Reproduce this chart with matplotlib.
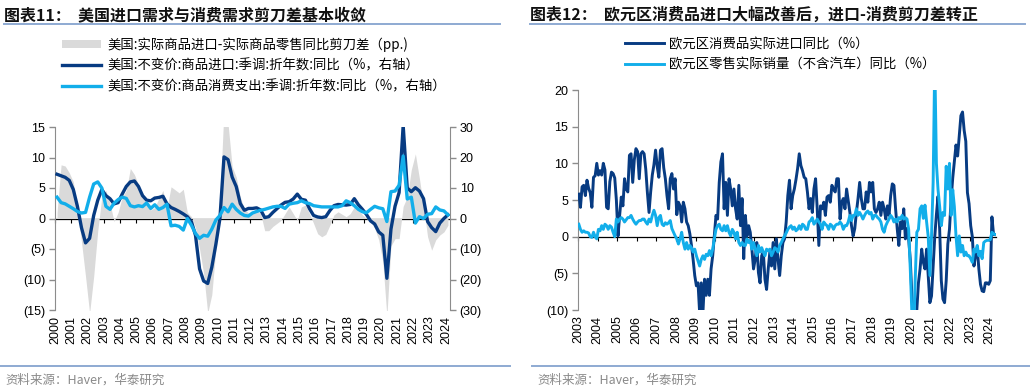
import numpy as np
import matplotlib
matplotlib.use('Agg')
import matplotlib.pyplot as plt
from matplotlib.lines import Line2D
from matplotlib.ticker import FuncFormatter

CJK = ['Noto Sans CJK SC', 'DejaVu Sans']
plt.rcParams['font.family'] = ['Liberation Sans', 'Noto Sans CJK SC', 'DejaVu Sans']
plt.rcParams['axes.unicode_minus'] = False

# ---------------- data: chart 11 (US, quarterly 2000Q1-2024Q1) ----------------
us_quarters = [f"{y}Q{q}" for y in range(2000, 2025) for q in range(1, 5)][:97]
us_gap = [1.0, 8.8, 8.6, 7.5, 6.0, 1.5, -3.8, -9.5, -15.5, -9.5, -2.0, 3.5,
          4.6, 2.5, -0.5, 1.0, 3.5, 4.6, 8.2, 7.2, 5.5, 3.5, 2.2, 1.4,
          1.8, 3.3, 4.6, 1.7, 5.2, 4.7, 4.2, 4.8, 1.0, 0.3, -1.5, -5.0,
          -9.0, -15.5, -12.5, -5.0, 3.0, 18.0, 15.5, 8.5, 6.8, 3.5, 1.6, 0.9,
          1.2, 1.2, 0.8, -2.0, -2.0, -1.3, -0.8, -0.3, 0.8, 1.9, 0.8, -0.3,
          1.9, 2.2, 0.8, -0.8, -2.5, -3.0, -2.6, -1.1, 0.6, 1.1, 0.7, 0.3,
          0.8, 1.9, 1.4, 0.6, 0.0, -0.5, -1.6, -3.5, -7.0, -16.0, -4.5, -3.3,
          -3.3, 2.0, 3.5, 8.0, 10.6, 6.5, 2.0, -3.0, -5.2, -3.5, -2.7, -2.2,
          -1.1]
us_imports = [14.5, 14.0, 13.5, 12.5, 9.5, 4.0, -3.0, -8.0, -6.5, 1.0, 6.0, 9.5,
              7.5, 6.5, 4.8, 5.2, 8.0, 10.5, 12.0, 12.3, 10.5, 7.5, 6.0, 5.8,
              6.7, 6.9, 7.3, 4.8, 3.6, 3.0, 2.3, 1.5, 0.6, -1.0, -5.5, -16.5,
              -20.5, -21.3, -16.0, -8.5, 0.0, 20.2, 19.3, 13.6, 10.5, 4.9, 2.7, 3.3,
              3.3, 3.5, 2.8, 0.3, 0.6, 2.0, 3.2, 4.4, 5.3, 5.5, 6.4, 8.0,
              6.3, 6.0, 3.2, 1.0, 0.5, 0.3, 0.6, 2.6, 4.2, 4.6, 4.5, 4.4,
              4.6, 6.5, 4.5, 3.0, 1.3, -0.8, -1.8, -4.4, -5.5, -19.6, -3.5, 4.0,
              8.5, 30.5, 10.0, 8.8, 10.1, 9.0, 6.5, -1.0, -3.0, -4.3, -1.5, 0.0,
              1.2]
us_goods_pce = [7.0, 5.2, 4.8, 4.0, 3.2, 2.3, 1.8, 2.0, 7.0, 11.3, 12.0, 10.0,
                4.0, 3.0, 5.0, 6.2, 7.0, 6.6, 4.2, 3.8, 4.2, 3.9, 5.1, 3.3,
                4.5, 3.0, 3.6, 4.7, -2.4, -2.2, -2.6, -3.8, 0.0, -2.2, -4.9, -6.5,
                -5.5, -5.8, -3.5, -0.5, 1.0, 3.6, 2.2, 4.7, 3.0, 1.8, 1.0, 0.8,
                1.8, 2.3, 2.7, 3.0, 3.4, 3.8, 4.0, 4.0, 3.3, 4.7, 5.0, 5.2,
                5.8, 5.2, 4.9, 4.2, 4.0, 3.8, 3.8, 3.8, 3.8, 3.8, 4.2, 5.8,
                5.2, 4.2, 3.0, 2.2, 1.9, 3.0, 4.0, 3.5, 3.2, -1.0, 8.8, 9.0,
                10.9, 20.5, 6.4, 7.0, -1.5, 0.6, 0.0, 1.4, 1.6, 3.8, 2.8, 2.5,
                1.2]
us_years = list(range(2000, 2025))

# ---------------- data: chart 12 (Euro area, monthly 2003-01 to 2024-04) ----------------
ea_imports = [
    5.8, 4.0, 6.8, 7.0, 5.6, 7.7, 6.6, 6.0, 4.0, 8.1, 8.3, 10.0,        # 2003
    8.4, 9.0, 8.4, 10.0, 9.1, 4.0, 3.8, 7.5, 8.8, 8.6, 8.0, 5.0,        # 2004
    0.1, 2.9, 5.4, 4.2, 7.9, 6.5, 6.1, 11.1, 11.3, 7.4, 10.5, 12.0,     # 2005
    11.6, 7.9, 11.3, 11.6, 11.3, 9.2, 6.0, 3.3, 6.1, 8.4, 9.8, 11.8,    # 2006
    9.6, 8.1, 11.8, 12.0, 9.4, 7.9, 5.6, 3.8, 7.9, 8.6, 6.5, 7.9,       # 2007
    3.0, 4.7, 4.2, 2.0, 4.7, 3.8, 2.0, 1.5, 0.4, -1.2, -3.1, -5.3,      # 2008
    -6.7, -6.3, -10.4, -6.3, -10.4, -5.8, -8.0, -5.8, -8.0, -4.4, -2.6, 0.1,  # 2009
    2.9, 2.4, 7.4, 10.2, 11.3, 3.8, 7.4, 2.9, 7.9, 6.5, 4.2, 6.5,       # 2010
    3.8, 2.4, 7.0, 1.5, 5.2, -3.0, 2.9, 0.1, 1.5, 0.6, -1.7, -4.4,      # 2011
    -3.1, -0.8, -4.9, -6.3, -2.6, -2.1, -5.8, -7.2, -4.4, -2.1, -4.0, -0.8,  # 2012
    -4.4, -0.3, -3.1, -5.3, -2.6, -0.8, -0.3, 2.0, 5.6, 7.7, 3.8, 5.6,  # 2013
    6.5, 7.8, 9.3, 11.3, 9.7, 9.0, 8.1, 7.9, 6.1, 3.8, 5.2, 3.3,        # 2014
    6.5, 7.9, 3.8, -1.2, 4.2, 3.8, 4.7, 2.9, 5.4, 5.6, 4.7, 7.0,        # 2015
    6.5, 6.1, 7.9, 7.9, 2.4, 4.7, 5.2, 3.8, 6.5, 4.9, 3.3, 1.5,         # 2016
    0.1, 1.1, 3.3, 5.2, 7.4, 5.2, 3.8, 3.8, 6.1, 4.7, 7.4, 6.1,         # 2017
    7.4, 3.8, 3.3, 3.8, 4.7, 2.9, 4.7, 3.8, 2.4, 4.2, 2.9, 5.6,         # 2018
    7.2, 7.0, 3.8, 1.1, -1.2, 2.0, 1.1, 3.8, -0.3, 1.1, -0.3, -3.1,     # 2019
    -8.1, -12.0, -14.0, -10.0, -6.3, -4.4, -1.7, -3.5, -4.4, -1.7, -5.3, -9.0,  # 2020
    -8.1, -4.0, 0.0, 3.0, 5.5, 1.0, -6.0, -8.5, -9.0, -6.0, -1.0, 1.0,  # 2021
    5.0, 8.0, 10.2, 12.5, 11.0, 13.8, 16.5, 17.0, 14.5, 13.0, 6.0, 4.5, # 2022
    1.5, 0.0, -4.0, -2.5, -1.5, -4.4, -6.5, -7.4, -7.5, -6.3, -6.3, -6.5,  # 2023
    -6.0, 2.7, 0.3, 0.3]                                                # 2024
ea_retail = [
    1.7, 1.0, 0.6, 0.8, 0.6, 0.6, 0.5, 0.0, -0.1, 0.6, 0.0, -0.3,       # 2003
    1.0, 0.8, 1.5, 1.0, 1.7, 1.5, 1.0, 1.5, 1.3, 0.6, 0.0, 2.4,         # 2004
    2.0, 2.4, 2.6, 2.4, 2.0, 2.3, 2.6, 2.6, 2.9, 2.4, 2.0, 1.7,         # 2005
    2.0, 2.2, 2.2, 2.4, 2.4, 2.0, 1.7, 2.4, 2.0, 2.9, 3.6, 2.9,         # 2006
    1.5, 2.6, 2.9, 1.7, 1.5, 1.9, 1.7, 1.9, 2.2, 1.1, 0.6, 0.1,         # 2007
    -0.3, -1.0, -0.3, 0.6, -0.8, -1.7, -0.8, -1.7, -1.2, -1.5, -2.1, -1.7,  # 2008
    -2.6, -3.3, -4.0, -3.1, -2.6, -3.1, -2.4, -2.6, -1.9, -2.6, -1.7, -0.3,  # 2009
    1.0, 1.5, 1.7, 1.0, 0.8, 1.5, 0.8, 1.5, 0.6, 0.1, 1.0, 0.6,         # 2010
    -0.3, 0.6, -0.8, -1.2, -0.8, -1.2, -1.2, -0.3, -0.8, -0.5, -1.7, -0.8,  # 2011
    -1.7, -2.6, -1.2, -2.1, -1.5, -2.1, -2.6, -1.7, -1.9, -1.7, -2.6, -2.1,  # 2012
    -1.5, -1.7, -2.1, -1.2, -0.8, -0.3, 0.1, 0.5, 1.0, 1.3, 1.5, 1.0,   # 2013
    1.3, 0.8, 1.0, 1.5, 1.0, 1.7, 1.5, 1.0, 1.0, 2.0, 2.2, 2.6,         # 2014
    1.7, 2.0, 2.4, 2.0, 1.7, 1.0, 2.0, 1.7, 1.5, 1.0, 1.7, 1.5,         # 2015
    1.0, 1.5, 1.7, 1.7, 2.0, 1.7, 1.0, 1.5, 1.5, 2.0, 2.9, 2.2,         # 2016
    2.9, 2.9, 3.8, 2.9, 3.3, 2.9, 2.4, 2.9, 3.3, 3.5, 3.1, 3.3,         # 2017
    2.4, 2.9, 2.9, 2.6, 2.4, 2.0, 1.0, 0.6, 1.5, 2.0, 2.4, 2.9,         # 2018
    2.6, 2.0, 2.4, 2.0, 2.6, 2.4, 2.9, 2.4, 2.6, 2.4, 1.0, -4.4,        # 2019
    -10.5, -14.0, -6.0, 0.6, 1.0, 3.8, 4.2, 2.5, 4.3, 2.0, 0.0, -5.3,   # 2020
    0.0, 7.4, 24.0, 10.0, 6.4, 4.1, 1.5, 3.3, 2.9, 9.6, 6.5, 10.0,      # 2021
    2.9, 6.4, 4.1, 0.1, -2.6, 0.1, -2.1, -1.2, -2.6, -2.1, -2.6, -2.6,  # 2022
    -3.0, -3.5, -1.7, -2.1, -1.2, -2.6, -2.0, -3.0, -0.8, -0.6, -0.5, -0.5,  # 2023
    -0.4, 0.6, 0.4, 0.3]                                                # 2024
ea_years = list(range(2003, 2025))

# ---------------- labels ----------------
title_11 = '图表11：  美国进口需求与消费需求剪刀差基本收敛'
title_12 = '图表12：  欧元区消费品进口大幅改善后，进口-消费剪刀差转正'
legend_11 = ['美国:实际商品进口-实际商品零售同比剪刀差（pp.)',
             '美国:不变价:商品进口:季调:折年数:同比（%，右轴）',
             '美国:不变价:商品消费支出:季调:折年数:同比（%，右轴）']
legend_12 = ['欧元区消费品实际进口同比（%）',
             '欧元区零售实际销量（不含汽车）同比（%）']
source = '资料来源：Haver，华泰研究'

# ---------------- style ----------------
NAVY = '#073b82'
CYAN = '#12aeea'
AREA = '#dadada'
SPINE = '#8c8c8c'
RULE = '#8eaad2'
TICK_FS = 9
LEG_FS = 9.6

W, H = 1030, 392
def fx(px):
    return px / W
def fy(py):
    return 1 - py / H

def paren(v, pos):
    v = int(round(v))
    return f'({abs(v)})' if v < 0 else f'{v}'

fig = plt.figure(figsize=(W / 100, H / 100), dpi=100)

# ======================= chart 11 =======================
tq = 2000 + np.arange(len(us_quarters)) / 4 + 0.125
axL = fig.add_axes([fx(55), fy(310), (450 - 55) / W, (310 - 127) / H])
axL2 = axL.twinx()

area = axL.fill_between(tq, 0, us_gap, color=AREA, lw=0, zorder=1)
axL.set_ylim(-15, 15)
axL.set_yticks(np.arange(-15, 16, 5))
axL.yaxis.set_major_formatter(FuncFormatter(paren))
axL.set_xlim(2000, 2024.25)
axL.set_xticks(us_years)
axL.set_xticklabels([str(y) for y in us_years], rotation=90)
axL.tick_params(axis='x', length=0, pad=4, labelsize=TICK_FS)
axL.tick_params(axis='y', length=4, width=1, color=SPINE, labelsize=TICK_FS, pad=3)
for s in ['top', 'right', 'bottom']:
    axL.spines[s].set_visible(False)
axL.spines['left'].set_color(SPINE)

secL = axL.secondary_xaxis(0.5)
secL.set_alignment('bottom')
secL.set_xticks(us_years)
secL.tick_params(axis='x', length=3, width=0.8, color='black', labelbottom=False, direction='out')
secL.spines['bottom'].set_color('black')
secL.spines['bottom'].set_linewidth(0.9)

l1, = axL2.plot(tq, us_imports, color=NAVY, lw=2.4, solid_joinstyle='round', zorder=3)
l2, = axL2.plot(tq, us_goods_pce, color=CYAN, lw=2.4, solid_joinstyle='round', zorder=4)
axL2.set_ylim(-30, 30)
axL2.set_yticks(np.arange(-30, 31, 10))
axL2.yaxis.set_major_formatter(FuncFormatter(paren))
axL2.tick_params(axis='y', length=4, width=1, color=SPINE, labelsize=TICK_FS, pad=3)
for s in ['top', 'left', 'bottom']:
    axL2.spines[s].set_visible(False)
axL2.spines['right'].set_color(SPINE)

fig.legend([area, l1, l2], legend_11, loc='upper left',
           bbox_to_anchor=(fx(62), fy(37)), frameon=False,
           prop={'family': CJK, 'size': LEG_FS}, handlelength=2.9, handletextpad=0.5,
           labelspacing=0.5, borderpad=0, borderaxespad=0, handleheight=0.45)

# ======================= chart 12 =======================
tm = 2003 + (np.arange(len(ea_imports)) + 0.5) / 12
axR = fig.add_axes([fx(578), fy(310), (996 - 578) / W, (310 - 90) / H])
r1, = axR.plot(tm, ea_imports, color=NAVY, lw=2.1, solid_joinstyle='round', zorder=3)
r2, = axR.plot(tm, ea_retail, color=CYAN, lw=2.1, solid_joinstyle='round', zorder=4)
axR.set_ylim(-10, 20)
axR.set_yticks(np.arange(-10, 21, 5))
axR.yaxis.set_major_formatter(FuncFormatter(paren))
axR.set_xlim(2003, 2003 + len(ea_imports) / 12)
axR.set_xticks(ea_years)
axR.set_xticklabels([str(y) for y in ea_years], rotation=90)
axR.tick_params(axis='x', length=0, pad=4, labelsize=TICK_FS)
axR.tick_params(axis='y', length=4, width=1, color=SPINE, labelsize=TICK_FS, pad=3)
for s in ['top', 'right', 'bottom']:
    axR.spines[s].set_visible(False)
axR.spines['left'].set_color(SPINE)

secR = axR.secondary_xaxis(1 / 3)
secR.set_alignment('bottom')
secR.set_xticks(ea_years)
secR.tick_params(axis='x', length=3, width=0.8, color='black', labelbottom=False, direction='out')
secR.spines['bottom'].set_color('black')
secR.spines['bottom'].set_linewidth(0.9)

fig.legend([r1, r2], legend_12, loc='upper left',
           bbox_to_anchor=(fx(625), fy(37)), frameon=False,
           prop={'family': CJK, 'size': LEG_FS}, handlelength=2.9, handletextpad=0.4,
           labelspacing=0.5, borderpad=0, borderaxespad=0)

# ======================= titles, rules, source =======================
for x0, x1, title in [(4, 500, title_11), (530, 1025, title_12)]:
    fig.text(fx(x0), fy(15), title, fontsize=11.5, fontweight='bold',
             family=CJK, va='center', ha='left', color='#111111')
    fig.add_artist(Line2D([fx(x0), fx(x1)], [fy(24), fy(24)], color=RULE, lw=1.4))
for x0, x1 in [(0, 510), (532, 1030)]:
    fig.add_artist(Line2D([fx(x0), fx(x1)], [fy(366), fy(366)], color=RULE, lw=1.4))
    fig.text(fx(x0 + 5), fy(380), source, fontsize=9, family=CJK,
             va='center', ha='left', color='#8a8a8a')

fig.savefig('out.png', dpi=100)
